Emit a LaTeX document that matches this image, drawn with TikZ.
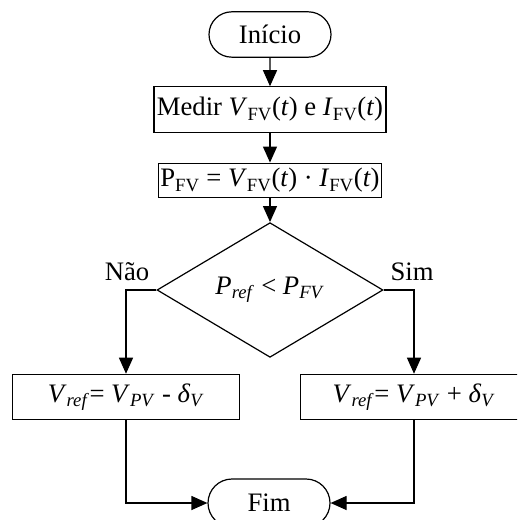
\documentclass[tikz,border=0pt]{standalone}
\usepackage{fontspec}
\setmainfont{Liberation Serif}
\usetikzlibrary{shapes.misc,shapes.geometric,arrows.meta}

\tikzset{
    terminal/.style={rounded rectangle, draw, line width=0.9pt, minimum width=91.5pt, minimum height=34pt, inner sep=0pt},
    process/.style={rectangle, draw, line width=0.9pt, minimum width=170pt, minimum height=34pt, inner sep=0pt},
    decision/.style={diamond, draw, line width=0.9pt, minimum width=169.5pt, minimum height=79pt, inner sep=0pt},
    flow/.style={line width=0.9pt, -{Triangle[length=12pt,width=10.5pt]}},
}

\begin{document}
\begin{tikzpicture}[x=0.75pt, y=-0.75pt, font=\fontsize{20}{24}\selectfont]
    \clip (0,0) rectangle (517,520);
    \useasboundingbox (0,0) rectangle (517,520);

    % Nodes of the flowchart
    \node[terminal] (start) at (270,34.5) {Início};
    \node[process, minimum width=174pt] (measure) at (270,109.5) {Medir \textit{V}\textsubscript{FV}(\textit{t}) e \textit{I}\textsubscript{FV}(\textit{t})};
    \node[process, minimum width=167pt, minimum height=26pt] (power) at (270,180.5) {P\textsubscript{FV} = \textit{V}\textsubscript{FV}(\textit{t}) · \textit{I}\textsubscript{FV}(\textit{t})};
    \node[decision] (decide) at (270,290) {\textit{P}\textsubscript{\textit{ref}} < \textit{P}\textsubscript{\textit{FV}}};
    \node[process] (dec) at (126,397) {\textit{V}\textsubscript{\textit{ref}}= \textit{V}\textsubscript{\textit{PV}} - \textit{δ}\textsubscript{\textit{V}}};
    \node[process] (inc) at (414,397) {\textit{V}\textsubscript{\textit{ref}}= \textit{V}\textsubscript{\textit{PV}} + \textit{δ}\textsubscript{\textit{V}}};
    \node[terminal, minimum height=36pt] (stop) at (269,503) {Fim};

    % Branch labels
    \node (no) at (127,272) {Não};
    \node (yes) at (412,272) {Sim};

    % Connectors
    \draw[flow] (start) -- (measure);
    \draw[flow] (measure) -- (power);
    \draw[flow] (power) -- (decide);
    \draw[flow] (decide.west) -| (dec);
    \draw[flow] (decide.east) -| (inc);
    \draw[flow] (dec) |- (stop);
    \draw[flow] (inc) |- (stop);
\end{tikzpicture}
\end{document}
